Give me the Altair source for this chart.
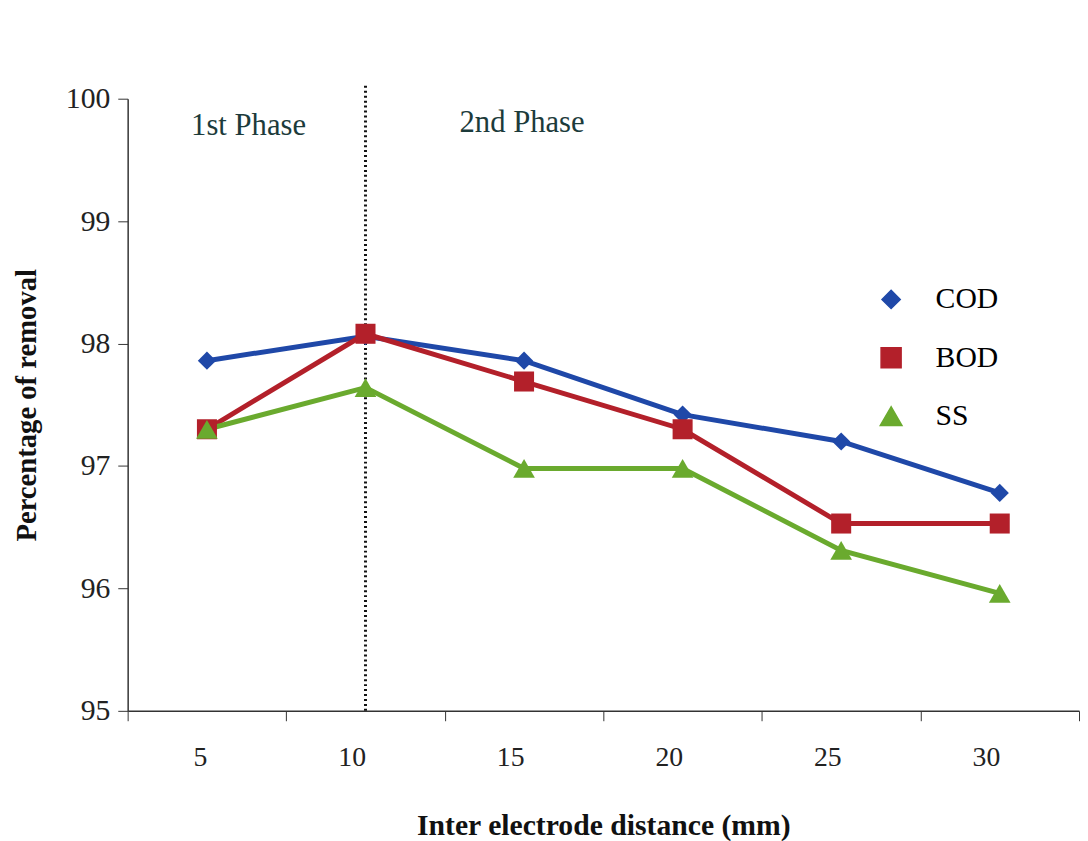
import altair as alt
import pandas as pd

distances = ["5", "10", "15", "20", "25", "30"]
cod = [97.86, 98.06, 97.86, 97.42, 97.20, 96.78]
bod = [97.30, 98.08, 97.69, 97.30, 96.53, 96.53]
ss = [97.30, 97.64, 96.98, 96.98, 96.31, 95.96]
series_names = ["COD", "BOD", "SS"]
series_colors = ["#1f48a8", "#b3202a", "#6aaa2e"]
series_shapes = ["diamond", "square", "triangle-up"]
series_sizes = [340, 480, 360]
phase_labels = ["1st Phase", "2nd Phase"]
phase_x = ["5", "15"]

rows = []
for name, vals in zip(series_names, [cod, bod, ss]):
    for d, v in zip(distances, vals):
        rows.append({"distance": d, "removal": v, "series": name})
df = pd.DataFrame(rows)

FONT = "Liberation Serif"
yscale = alt.Scale(domain=[95, 100])

x = alt.X("distance:N", sort=distances, scale=alt.Scale(paddingInner=0, paddingOuter=0),
          axis=alt.Axis(title="Inter electrode distance (mm)", labelAngle=0, tickBand="extent",
                        labelFontSize=28, labelPadding=37, tickSize=10, titleFontSize=30,
                        titlePadding=40, titleFontWeight="bold", domainColor="#333",
                        tickColor="#333", domainWidth=1.5, labelFont=FONT, titleFont=FONT))
y = alt.Y("removal:Q", scale=yscale,
          axis=alt.Axis(title="Percentage of removal", values=[95, 96, 97, 98, 99, 100], format="d",
                        grid=False, labelFontSize=30, tickSize=10, labelPadding=8,
                        titleFontSize=29, titleFontWeight="bold", titlePadding=24,
                        domainColor="#333", tickColor="#333", domainWidth=1.5,
                        labelFont=FONT, titleFont=FONT))
color = alt.Color("series:N", sort=series_names,
                  scale=alt.Scale(domain=series_names, range=series_colors),
                  legend=alt.Legend(title=None, orient="none", legendX=757, legendY=188,
                                    labelFontSize=30, labelFont=FONT, rowPadding=29,
                                    symbolSize=420, labelOffset=30))
shape = alt.Shape("series:N", sort=series_names,
                  scale=alt.Scale(domain=series_names, range=series_shapes))
size = alt.Size("series:N", sort=series_names,
                scale=alt.Scale(domain=series_names, range=series_sizes), legend=None)

lines = alt.Chart(df).mark_line(strokeWidth=5).encode(x=x, y=y, color=color)
points = alt.Chart(df).mark_point(filled=True, opacity=1).encode(x=x, y=y, color=color, shape=shape, size=size)

vline = alt.Chart(pd.DataFrame({"distance": ["10"], "y0": [95], "y1": [100.12]})).mark_rule(
    color="#111", strokeWidth=3, strokeDash=[2, 3], clip=False).encode(
    x=alt.X("distance:N", sort=distances), y=alt.Y("y0:Q", scale=yscale), y2="y1:Q")

ph = pd.DataFrame({"label": phase_labels, "distance": phase_x, "yv": [99.78, 99.8]})
t1 = alt.Chart(ph.iloc[[0]]).mark_text(font=FONT, fontSize=31, color="#1c3b3b", align="left", dx=-16).encode(
    x=alt.X("distance:N", sort=distances), y=alt.Y("yv:Q", scale=yscale), text="label:N")
t2 = alt.Chart(ph.iloc[[1]]).mark_text(font=FONT, fontSize=31, color="#1c3b3b", align="center", dx=-2).encode(
    x=alt.X("distance:N", sort=distances), y=alt.Y("yv:Q", scale=yscale), text="label:N")

chart = alt.layer(vline, lines, points, t1, t2).properties(
    width=962, height=619, background="white",
    padding={"top": 70, "left": 5, "right": 0, "bottom": 5}
).configure_axis(labelColor="#222", titleColor="#111").configure_view(stroke=None)

chart.save("out.html", embed_options={"renderer": "svg", "actions": False})
